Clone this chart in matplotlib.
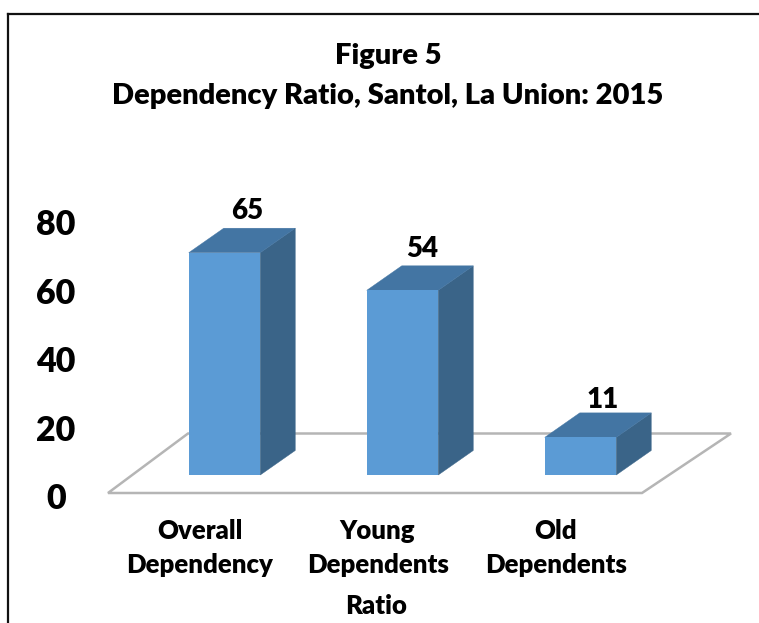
import matplotlib
matplotlib.use("Agg")
import matplotlib.pyplot as plt
from matplotlib.patches import Polygon
from matplotlib.lines import Line2D

plt.rcParams['font.family'] = ['Lato', 'DejaVu Sans']

categories = ["Overall\nDependency", "Young\nDependents", "Old\nDependents"]
values = [65, 54, 11]
y_ticks = [0, 20, 40, 60, 80]
title = "Figure 5\nDependency Ratio, Santol, La Union: 2015"
x_label = "Ratio"

W, H = 759, 623
fig = plt.figure(figsize=(W / 100, H / 100), dpi=100, facecolor="white")

# Axes covering the figure: x in category units, y in value units
PX_X = 178.0          # pixels per category
PX_Y = 3.42           # pixels per value unit
X0 = 224.5            # pixel of category 0
Y0 = 475.0            # pixel (from top) of the bars' base
ax = fig.add_axes([0, 0, 1, 1])
ax.set_xlim(-X0 / PX_X, (W - X0) / PX_X)
ax.set_ylim(-(H - Y0) / PX_Y, Y0 / PX_Y)
ax.axis("off")

def px(x, y):
    """Pixel position (from top-left) to data coordinates, for decorations."""
    return (x - X0) / PX_X, (Y0 - y) / PX_Y

# Chart-area border: left and top only, running off the picture
for p, q in [((8.5, 623), (8.5, 13.5)), ((8.5, 13.5), (759, 13.5))]:
    ax.add_line(Line2D(*zip(px(*p), px(*q)), color="#111111", lw=1.6, zorder=1,
                       solid_capstyle="projecting"))

# Floor
floor = [px(108, 493), px(642, 493), px(731, 433.5), px(188, 433.5)]
ax.add_patch(Polygon(floor, closed=True, fc="white", ec="#b5b5b5", lw=1.8, zorder=2))

# 3D bars
half = 35.75 / PX_X
dx = 35.0 / PX_X
dy = 24.5 / PX_Y
label_dx = [0.127, 0.11, 0.127]
label_gap = [17, 16.5, 13]
for i, v in enumerate(values):
    l, r = i - half, i + half
    ax.add_patch(Polygon([(r, 0), (r + dx, dy), (r + dx, v + dy), (r, v)],
                         closed=True, fc="#3A6488", ec="#3A6488", lw=0.3, zorder=3))
    ax.add_patch(Polygon([(l, v), (l + dx, v + dy), (r + dx, v + dy), (r, v)],
                         closed=True, fc="#4375A3", ec="#4375A3", lw=0.3, zorder=3))
    ax.add_patch(Polygon([(l, 0), (r, 0), (r, v), (l, v)],
                         closed=True, fc="#5B9BD5", ec="none", zorder=4))
    ax.text(i + label_dx[i], v + dy + label_gap[i] / PX_Y, str(v), ha="center", va="center",
            fontsize=20, fontweight="heavy", color="black", zorder=5)

# Value axis labels (axis baseline sits below the bars' base)
base = -24.0 / PX_Y
for t in y_ticks:
    ax.text(px(56, 0)[0], base + t, str(t), ha="center", va="center",
            fontsize=24.5, fontweight="heavy", color="black", zorder=5)

# Category labels
cat_y = px(0, 548)[1]
for i, c in enumerate(categories):
    ax.text(i - 0.14, cat_y, c, ha="center", va="center", fontsize=18.5,
            fontweight="heavy", color="black", linespacing=1.5, zorder=5)

ax.text(*px(376, 606), x_label, ha="center", va="center", fontsize=18.5,
        fontweight="heavy", color="black", zorder=5)

ax.text(*px(388, 76), title, ha="center", va="center", fontsize=21,
        fontweight="heavy", color="black", linespacing=1.62, zorder=5)

fig.savefig("out.png", dpi=100, facecolor="white")
